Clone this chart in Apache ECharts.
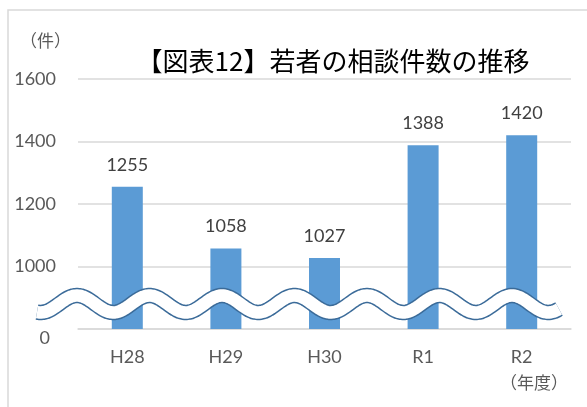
<!DOCTYPE html>
<html>
<head>
<meta charset="utf-8">
<script src="https://cdn.jsdelivr.net/npm/echarts@6/dist/echarts.min.js"></script>
<style>
html,body{margin:0;padding:0;background:#fff;}
#chart{width:587px;height:407px;}
</style>
</head>
<body>
<div id="chart"></div>
<script>
var categories = ['H28', 'H29', 'H30', 'R1', 'R2'];
var counts = [1255, 1058, 1027, 1388, 1420];
var yTicks = [800, 1000, 1200, 1400, 1600];   // 800 の位置に「0」を表示（省略線）

var myChart = echarts.init(document.getElementById('chart'));
var font = '"Noto Sans CJK JP", "Noto Sans", sans-serif';
var numFont = 'Lato, "Open Sans", sans-serif';

var option = {
    backgroundColor: '#fff',
    title: {
        text: '【図表12】若者の相談件数の推移',
        left: 328,
        textAlign: 'center',
        top: 43,
        textStyle: {
            fontFamily: font,
            fontSize: 26,
            fontWeight: 'normal',
            color: '#000'
        }
    },
    grid: {
        left: 78,
        right: 16,
        top: 79,
        bottom: 78
    },
    xAxis: {
        type: 'category',
        data: categories,
        axisTick: {show: false},
        axisLine: {lineStyle: {color: '#d9d9d9', width: 1.5}},
        axisLabel: {
            margin: 19,
            color: '#595959',
            fontSize: 18,
            fontFamily: numFont
        }
    },
    yAxis: {
        type: 'value',
        min: yTicks[0],
        max: yTicks[yTicks.length - 1],
        interval: 200,
        axisLine: {show: false},
        axisTick: {show: false},
        splitLine: {lineStyle: {color: '#d9d9d9', width: 1.5}},
        axisLabel: {
            margin: 22,
            color: '#595959',
            fontSize: 18,
            fontFamily: numFont,
            formatter: function (v) {
                return v === yTicks[0] ? '{z|0}' : String(v);
            },
            rich: {
                z: {padding: [18, 6, 0, 0], fontSize: 18, color: '#595959', fontFamily: numFont}
            }
        }
    },
    series: [{
        type: 'bar',
        data: counts,
        barWidth: 31,
        itemStyle: {color: '#5b9bd5'},
        label: {
            show: true,
            position: 'top',
            distance: 13,
            color: '#404040',
            fontSize: 18,
            fontFamily: numFont
        }
    }],
    graphic: [
        {
            id: 'frame',
            type: 'rect',
            shape: {x: 8, y: 10, width: 600, height: 420},
            style: {fill: 'none', stroke: '#d9d9d9', lineWidth: 1.5},
            silent: true
        },
        {
            id: 'unitY',
            type: 'text',
            left: 20,
            top: 32,
            style: {text: '（件）', fill: '#595959', fontSize: 17, fontFamily: font}
        },
        {
            id: 'unitX',
            type: 'text',
            left: 500,
            top: 374,
            style: {text: '（年度）', fill: '#595959', fontSize: 17, fontFamily: font}
        }
    ]
};
myChart.setOption(option);

// 省略の波線
var yc = myChart.convertToPixel({yAxisIndex: 0}, 880);
var pts = [];
for (var x = 37; x <= 560; x += 2) {
    pts.push([x, yc - 8.5 * Math.cos(2 * Math.PI * (x - 77) / 72.5)]);
}
myChart.setOption({
    graphic: [
        {
            id: 'waveOuter',
            type: 'polyline',
            z: 100,
            shape: {points: pts},
            style: {stroke: '#3b6b99', lineWidth: 15.5, fill: null, lineCap: 'butt', lineJoin: 'round'}
        },
        {
            id: 'waveInner',
            type: 'polyline',
            z: 101,
            shape: {points: pts},
            style: {stroke: '#ffffff', lineWidth: 12.5, fill: null, lineCap: 'butt', lineJoin: 'round'}
        }
    ]
});
</script>
</body>
</html>
